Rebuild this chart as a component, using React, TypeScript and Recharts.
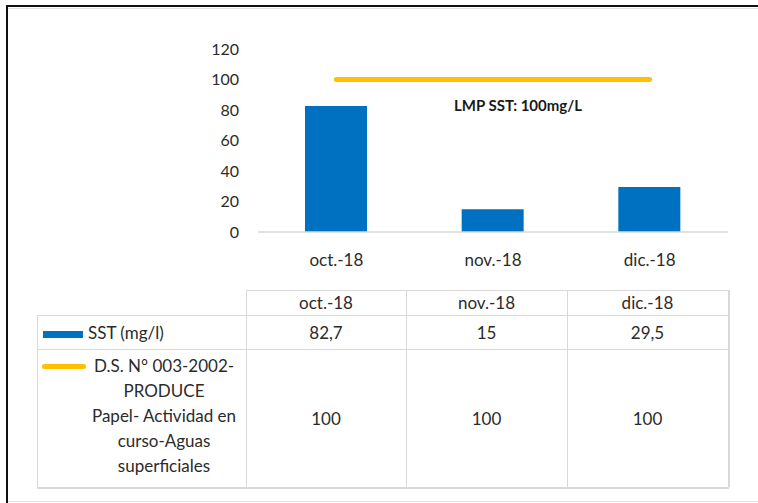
import React from 'react';
import { ComposedChart, Bar, Line, XAxis, YAxis } from 'recharts';

const categories = ['oct.-18', 'nov.-18', 'dic.-18'];
const sstValues = [82.7, 15, 29.5];
const limitValues = [100, 100, 100];
const yTicks = [0, 20, 40, 60, 80, 100, 120];
const sstName = 'SST (mg/l)';
const limitNameLines = ['D.S. N° 003-2002-', 'PRODUCE', 'Papel- Actividad en', 'curso-Aguas', 'superficiales'];
const limitLabel = 'LMP SST: 100mg/L';

const BLUE = '#0070C0';
const YELLOW = '#FFC000';
const GRID = '#d9d9d9';
const TEXT = '#2b2b2b';
const FONT = 'Lato, "Open Sans", sans-serif';

const data = categories.map((c, i) => ({ cat: c, sst: sstValues[i], lim: limitValues[i] }));

const fmt = (v: number) => String(v).replace('.', ',');

const LimitLabel = (props: any) => {
  const { x, y, index } = props;
  if (index !== 1) return null;
  return (
    <text x={x + 25} y={y + 25} textAnchor="middle" dominantBaseline="central"
      fontFamily={FONT} fontSize={15} fontWeight={700} fill="#1a1a1a">
      {limitLabel}
    </text>
  );
};

const colX = [246, 406, 567, 728];
const tableLeft = 37;
const rowY = [290, 315, 349, 487];

export default function App() {
  const cell = (left: number, top: number, w: number, h: number, content: React.ReactNode, key: string) => (
    <div key={key} style={{
      position: 'absolute', left, top, width: w, height: h,
      display: 'flex', alignItems: 'center', justifyContent: 'center',
      fontFamily: FONT, fontSize: 17, color: TEXT,
    }}>{content}</div>
  );

  return (
    <div style={{ position: 'absolute', left: 0, top: 0, width: 758, height: 503, background: '#fff', overflow: 'hidden' }}>
      {/* frame */}
      <div style={{ position: 'absolute', left: 6, top: 5, width: 760, height: 2, background: '#111' }} />
      <div style={{ position: 'absolute', left: 6, top: 5, width: 2, height: 500, background: '#111' }} />
      <div style={{ position: 'absolute', left: 8, top: 8, width: 760, height: 1, background: '#e3e3e3' }} />
      <div style={{ position: 'absolute', left: 8, top: 501, width: 760, height: 1, background: '#e3e3e3' }} />

      <div style={{ position: 'absolute', left: 0, top: 0 }}>
        <ComposedChart width={758} height={285} data={data}
          margin={{ top: 49, right: 30, bottom: 13, left: 198 }}>
          <XAxis dataKey="cat" axisLine={{ stroke: GRID, strokeWidth: 1.5 }} tickLine={false}
            tickSize={0} tickMargin={22} height={40}
            tick={{ fontFamily: FONT, fontSize: 17, fill: TEXT }} />
          <YAxis domain={[0, 120]} ticks={yTicks} axisLine={false} tickLine={false}
            tickSize={0} tickMargin={19} width={60} interval={0}
            tick={{ fontFamily: FONT, fontSize: 16, fill: TEXT }} />
          <Bar dataKey="sst" fill={BLUE} barSize={62} isAnimationActive={false} />
          <Line dataKey="lim" stroke={YELLOW} strokeWidth={5} strokeLinecap="round" dot={false}
            activeDot={false} isAnimationActive={false} label={<LimitLabel />} />
        </ComposedChart>
      </div>

      {/* data table grid */}
      <div style={{ position: 'absolute', left: colX[0], top: rowY[0], width: colX[3] - colX[0], height: 1, background: GRID }} />
      <div style={{ position: 'absolute', left: tableLeft, top: rowY[1], width: colX[3] - tableLeft, height: 1, background: GRID }} />
      <div style={{ position: 'absolute', left: tableLeft, top: rowY[2], width: colX[3] - tableLeft, height: 1, background: GRID }} />
      <div style={{ position: 'absolute', left: tableLeft, top: rowY[3], width: colX[3] - tableLeft + 1, height: 1.5, background: GRID }} />
      <div style={{ position: 'absolute', left: tableLeft, top: rowY[1], width: 1, height: rowY[3] - rowY[1], background: GRID }} />
      {colX.map((x, i) => (
        <div key={'v' + i} style={{ position: 'absolute', left: x, top: rowY[0], width: i === 3 ? 1.5 : 1, height: rowY[3] - rowY[0], background: GRID }} />
      ))}

      {categories.map((c, i) => cell(colX[i], rowY[0], colX[i + 1] - colX[i], rowY[1] - rowY[0], c, 'h' + i))}
      {sstValues.map((v, i) => cell(colX[i], rowY[1], colX[i + 1] - colX[i], rowY[2] - rowY[1], fmt(v), 's' + i))}
      {limitValues.map((v, i) => cell(colX[i], rowY[2], colX[i + 1] - colX[i], rowY[3] - rowY[2], fmt(v), 'l' + i))}

      {/* legend keys */}
      <div style={{ position: 'absolute', left: 43, top: 331, width: 40, height: 7, background: BLUE }} />
      <div style={{ position: 'absolute', left: 88, top: 321, height: 24, lineHeight: '24px', fontFamily: FONT, fontSize: 17, color: TEXT, whiteSpace: 'nowrap' }}>{sstName}</div>
      <div style={{ position: 'absolute', left: 42, top: 364, width: 44, height: 5, borderRadius: 3, background: YELLOW }} />
      <div style={{ position: 'absolute', left: 86, top: 353, width: 156, textAlign: 'center', lineHeight: '25px', fontFamily: FONT, fontSize: 17, color: TEXT }}>
        {limitNameLines.map((l, i) => <div key={i} style={{ whiteSpace: 'nowrap' }}>{l}</div>)}
      </div>
    </div>
  );
}
